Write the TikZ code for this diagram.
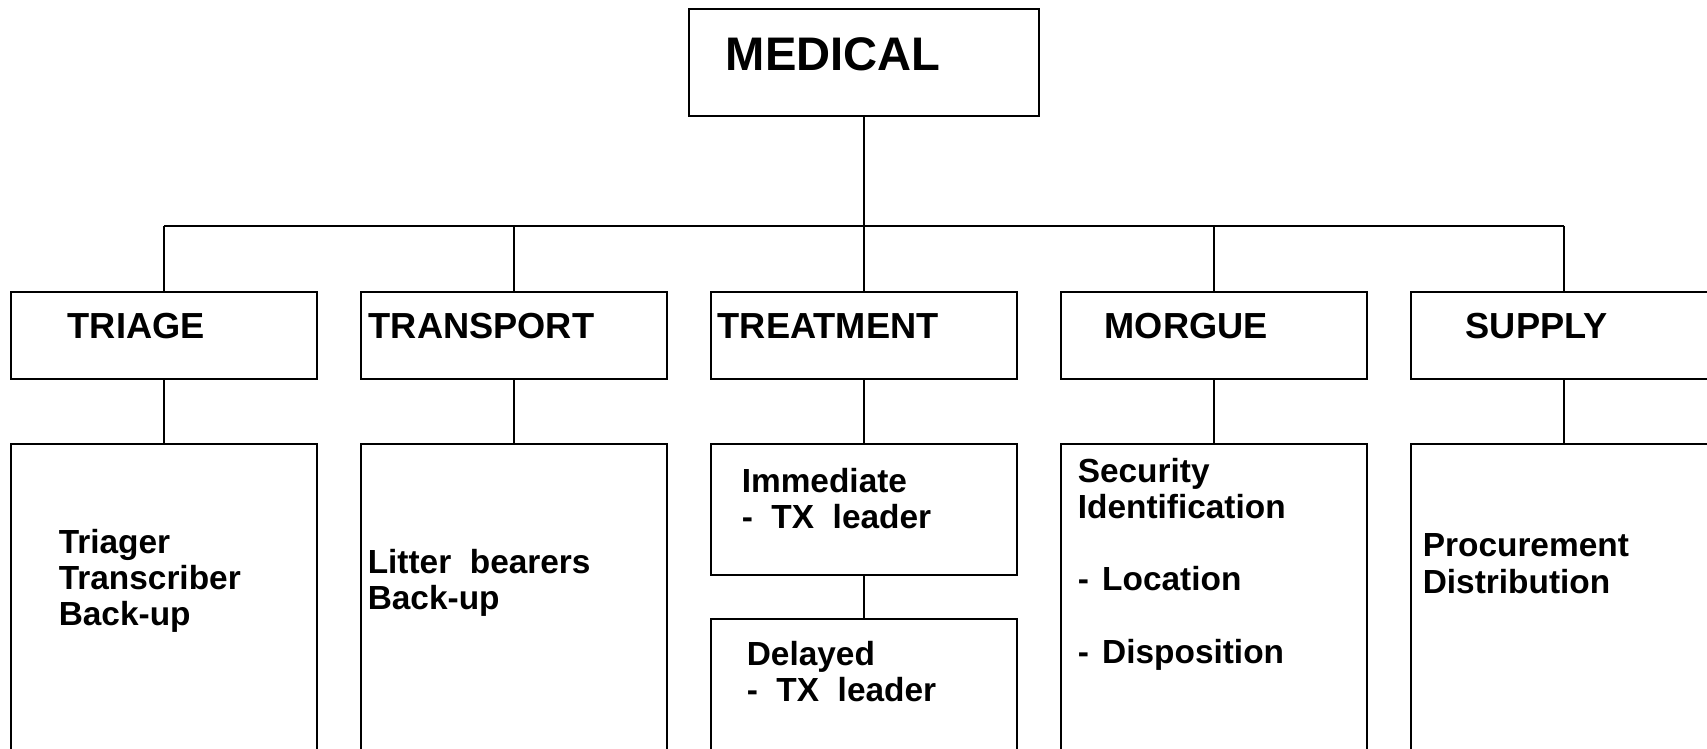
\documentclass[tikz,border=0pt]{standalone}
\usepackage{fontspec}
\setmainfont{Liberation Sans}

\begin{document}
\begin{tikzpicture}[x=0.01cm,y=-0.01cm,line width=0.45pt,
  box/.style={draw,minimum width=3.06cm,inner sep=0pt},
  lbl/.style={anchor=base west,inner sep=0pt,font=\fontsize{10.3}{12}\selectfont\bfseries},
  txt/.style={anchor=north west,inner sep=0pt,align=left,font=\fontsize{9.5}{10.3}\selectfont\bfseries}]
\useasboundingbox (0,0) rectangle (1707,749);
\clip (0,0) rectangle (1707,749);

\node[draw,minimum width=3.5cm,minimum height=1.07cm,inner sep=0pt] (medical) at (864,62.5) {};
\node[anchor=base west,inner sep=0pt,font=\fontsize{13.4}{16}\selectfont\bfseries] (medicalT) at (725,71) {MEDICAL};

\node[box,minimum height=0.87cm] (triage) at (164,335.5) {};
\node[box,minimum height=0.87cm] (transport) at (514,335.5) {};
\node[box,minimum height=0.87cm] (treatment) at (864,335.5) {};
\node[box,minimum height=0.87cm] (morgue) at (1214,335.5) {};
\node[box,minimum height=0.87cm] (supply) at (1564,335.5) {};

\node[lbl] (triageT) at (67,339) {TRIAGE};
\node[lbl] (transportT) at (368,339) {TRANSPORT};
\node[lbl] (treatmentT) at (717,339) {TREATMENT};
\node[lbl] (morgueT) at (1104,339) {MORGUE};
\node[lbl] (supplyT) at (1465,339) {SUPPLY};

\node[box,minimum height=4cm] (triageD) at (164,644) {};
\node[box,minimum height=4cm] (transportD) at (514,644) {};
\node[box,minimum height=1.31cm] (immediate) at (864,509.5) {};
\node[box,minimum height=2cm] (delayed) at (864,719) {};
\node[box,minimum height=4cm] (morgueD) at (1214,644) {};
\node[box,minimum height=4cm] (supplyD) at (1564,644) {};

\node[txt] (triageX) at (58,528) {Triager\\Transcriber\\Back-up};
\node[txt] (transportX) at (367,548) {Litter\ \ bearers\\Back-up};
\node[txt] (immediateX) at (741,467) {Immediate\\-\ \ TX\ \ leader};
\node[txt] (delayedX) at (746,640) {Delayed\\-\ \ TX\ \ leader};
\node[txt] (morgueX) at (1077,457) {Security\\Identification\\[10.3pt]- \kern0.12em Location\\[10.3pt]- \kern0.12em Disposition};
\node[txt] (supplyX) at (1422,533) {Procurement\\Distribution};

\coordinate (bar) at (864,226);
\draw (medical.south) -- (bar);
\draw (bar -| triage.north) -- (bar -| supply.north);
\foreach \n/\d in {triage/triageD,transport/transportD,treatment/immediate,morgue/morgueD,supply/supplyD}{
  \draw (bar -| \n.north) -- (\n.north);
  \draw (\n.south) -- (\d.north);
}
\draw (immediate.south) -- (delayed.north);
\end{tikzpicture}
\end{document}
